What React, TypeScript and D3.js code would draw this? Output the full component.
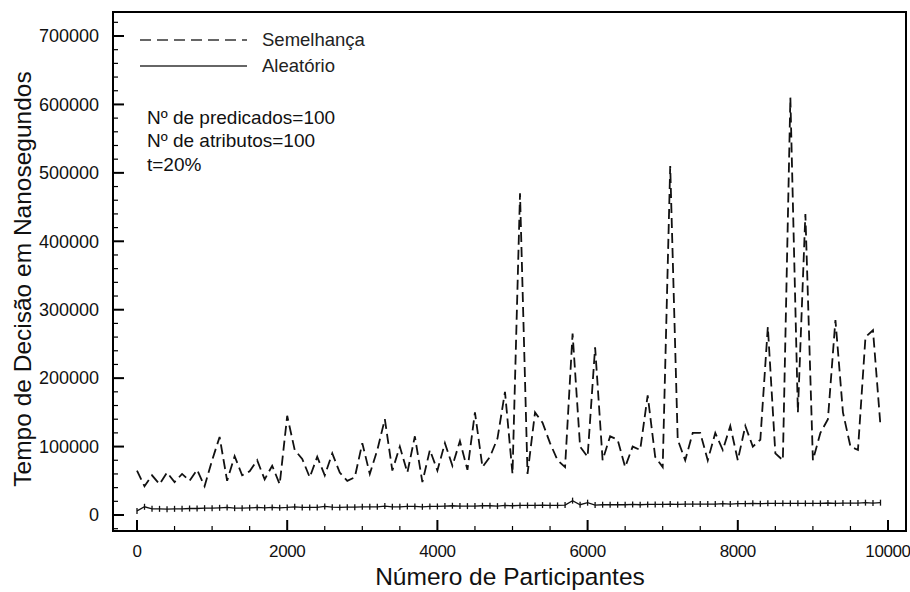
import React from 'react';
import * as d3 from 'd3';

// Número de participantes (x) sampled every 100
const participants: number[] = d3.range(0, 10000, 100);

// Tempo de decisão (thousands of ns) — Semelhança (dashed)
const semelhanca: number[] = [
  65, 42, 58, 45, 62, 48, 60, 50, 66, 42,
  80, 114, 50, 86, 58, 64, 80, 52, 72, 45,
  145, 95, 82, 55, 85, 58, 90, 62, 50, 55,
  105, 60, 95, 140, 65, 100, 62, 115, 48, 95,
  65, 105, 72, 108, 66, 150, 70, 85, 112, 180,
  60, 470, 60, 150, 135, 105, 80, 70, 265, 100,
  85, 245, 80, 115, 110, 70, 100, 95, 175, 85,
  70, 510, 110, 80, 120, 120, 80, 120, 95, 130,
  80, 130, 100, 110, 275, 90, 80, 610, 150, 440,
  80, 120, 140, 285, 150, 100, 95, 260, 270, 130,
];

// Tempo de decisão (thousands of ns) — Aleatório (solid)
const aleatorio: number[] = [
  6, 12, 9, 9, 8.5, 9, 9, 9.5, 9.5, 10,
  10, 10.5, 11, 10, 10, 10.5, 11, 10.5, 11, 10.5,
  11, 12, 11, 11, 11, 12.5, 11.5, 11, 11.5, 11.5,
  12, 12, 12, 13, 12, 12, 12.5, 12.5, 12, 12.5,
  12.5, 13, 13.5, 13, 13, 13, 13.5, 13.5, 13, 14,
  13.5, 14, 14, 14, 14.5, 14, 14, 14.5, 21, 15,
  18, 14.5, 15, 15, 15, 15, 15.5, 15, 15.5, 15.5,
  15.5, 16, 15.5, 16, 16, 16, 16, 16, 16.5, 16,
  16.5, 16.5, 17, 16.5, 17, 17, 17, 17, 17, 17,
  17, 17, 17.5, 17, 17.5, 17.5, 17.5, 18, 17.5, 18,
];

const xTickValues: number[] = [0, 2000, 4000, 6000, 8000, 10000];
const yTickValues: number[] = [0, 100000, 200000, 300000, 400000, 500000, 600000, 700000];
const seriesNames: string[] = ['Semelhança', 'Aleatório'];
const annotations: string[] = ['Nº de predicados=100', 'Nº de atributos=100', 't=20%'];
const xTitle = 'Número de Participantes';
const yTitle = 'Tempo de Decisão em Nanosegundos';

const FONT = '"Liberation Sans", Arial, Helvetica, sans-serif';

export default function App() {
  const W = 910;
  const H = 592;
  const box = { left: 113, top: 12, right: 906, bottom: 531 };
  const x = d3.scaleLinear().domain([0, 10000]).range([137, 888]);
  const y = d3.scaleLinear().domain([0, 700000]).range([515, 36]);

  const semData = participants.map((p, i) => [p, semelhanca[i] * 1000] as [number, number]);
  const aleData = participants.map((p, i) => [p, aleatorio[i] * 1000] as [number, number]);

  const line = d3
    .line<[number, number]>()
    .x((d) => x(d[0]))
    .y((d) => y(d[1]));

  const xMinor = d3.range(0, 10001, 500).filter((v) => !xTickValues.includes(v));
  const yMinor = d3
    .range(-20000, 740001, 20000)
    .filter((v) => !yTickValues.includes(v) && y(v) < box.bottom - 1 && y(v) > box.top + 1);

  return (
    <svg
      width={W}
      height={H}
      style={{ position: 'absolute', left: 0, top: 0, background: '#fff' }}
      fontFamily={FONT}
    >
      <rect x={0} y={0} width={W} height={H} fill="#fff" />

      {/* data */}
      <path d={line(aleData) || ''} fill="none" stroke="#111" strokeWidth={1.3} />
      {aleData.map((d, i) => (
        <line
          key={'am' + i}
          x1={x(d[0])}
          x2={x(d[0])}
          y1={y(d[1]) - 3}
          y2={y(d[1]) + 3}
          stroke="#111"
          strokeWidth={1.3}
        />
      ))}
      <path
        d={line(semData) || ''}
        fill="none"
        stroke="#111"
        strokeWidth={1.8}
        strokeDasharray="10,5"
      />

      {/* frame */}
      <rect
        x={box.left}
        y={box.top}
        width={box.right - box.left}
        height={box.bottom - box.top}
        fill="none"
        stroke="#000"
        strokeWidth={2}
      />

      {/* x ticks */}
      {xTickValues.map((v) => (
        <g key={'xt' + v}>
          <line x1={x(v)} x2={x(v)} y1={box.bottom} y2={box.bottom - 11} stroke="#000" strokeWidth={2} />
          <text x={x(v)} y={557} textAnchor="middle" fontSize={17} letterSpacing={-0.4} fill="#111">
            {v}
          </text>
        </g>
      ))}
      {xMinor.map((v) => (
        <line key={'xm' + v} x1={x(v)} x2={x(v)} y1={box.bottom} y2={box.bottom - 5} stroke="#000" strokeWidth={1.2} />
      ))}

      {/* y ticks */}
      {yTickValues.map((v) => (
        <g key={'yt' + v}>
          <line x1={box.left} x2={box.left + 11} y1={y(v)} y2={y(v)} stroke="#000" strokeWidth={2} />
          <text x={99} y={y(v)} dy="0.35em" textAnchor="end" fontSize={18} fill="#111">
            {v}
          </text>
        </g>
      ))}
      {yMinor.map((v) => (
        <line key={'ym' + v} x1={box.left} x2={box.left + 5} y1={y(v)} y2={y(v)} stroke="#000" strokeWidth={1.2} />
      ))}

      {/* axis titles */}
      <text x={510} y={585} textAnchor="middle" fontSize={24.5} fill="#111">
        {xTitle}
      </text>
      <text
        transform={`translate(31, 279) rotate(-90)`}
        textAnchor="middle"
        fontSize={24.5}
        fill="#111"
      >
        {yTitle}
      </text>

      {/* legend */}
      <line x1={140} x2={247} y1={40} y2={40} stroke="#666" strokeWidth={1.8} strokeDasharray="11,6" />
      <text x={262} y={40} dy="0.35em" fontSize={18.5} fill="#222">
        {seriesNames[0]}
      </text>
      <line x1={140} x2={247} y1={66} y2={66} stroke="#666" strokeWidth={1.8} />
      <text x={262} y={66} dy="0.35em" fontSize={18.5} fill="#222">
        {seriesNames[1]}
      </text>

      {/* annotations */}
      {annotations.map((t, i) => (
        <text key={'an' + i} x={147} y={117 + i * 23.5} dy="0.35em" fontSize={19} fill="#111">
          {t}
        </text>
      ))}
    </svg>
  );
}
